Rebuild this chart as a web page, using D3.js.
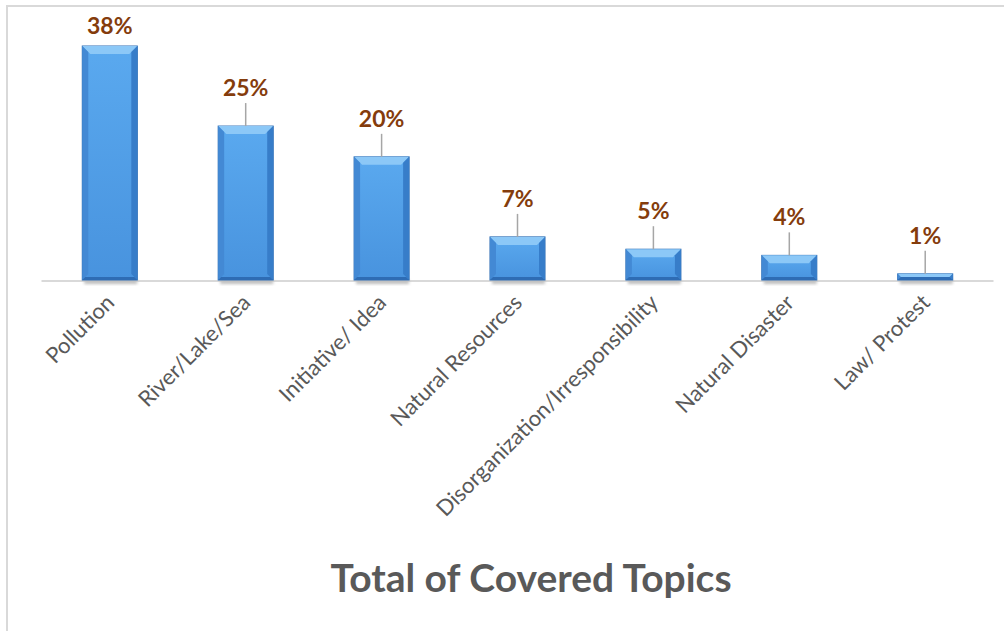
<!DOCTYPE html>
<meta charset="utf-8">
<style>
body { margin: 0; background: #fff; }
svg { display: block; }
text { font-family: Lato, "Open Sans", sans-serif; }
</style>
<svg width="1004" height="631"></svg>
<script src="https://d3js.org/d3.v7.min.js"></script>
<script>

var categories = ["Pollution", "River/Lake/Sea", "Initiative/ Idea", "Natural Resources",
                  "Disorganization/Irresponsibility", "Natural Disaster", "Law/ Protest"];
var values = [38, 25, 20, 7, 5, 4, 1];
var valueLabels = ["38%", "25%", "20%", "7%", "5%", "4%", "1%"];
var title = "Total of Covered Topics";

var svg = d3.select("svg"),
    width = +svg.attr("width"),
    height = +svg.attr("height");

var baseY = 280;

var x = d3.scaleBand()
    .domain(categories)
    .range([41.5, 993.5])
    .paddingInner(0.595)
    .paddingOuter(0.3);

var y = d3.scaleLinear()
    .domain([0, 38])
    .range([baseY, 46]);

// chart frame (top + left only, the rest is cropped)
svg.append("line")
    .attr("x1", 6).attr("x2", width).attr("y1", 6).attr("y2", 6)
    .attr("stroke", "#d9d9d9").attr("stroke-width", 2);
svg.append("line")
    .attr("x1", 7).attr("x2", 7).attr("y1", 6).attr("y2", height)
    .attr("stroke", "#d9d9d9").attr("stroke-width", 2);

var defs = svg.append("defs");
var grad = defs.append("linearGradient").attr("id", "face")
    .attr("x1", 0).attr("x2", 0).attr("y1", 0).attr("y2", 1);
grad.append("stop").attr("offset", "0%").attr("stop-color", "#5aa9ef");
grad.append("stop").attr("offset", "100%").attr("stop-color", "#4893de");

var shadow = defs.append("filter").attr("id", "blur")
    .attr("x", "-20%").attr("y", "-50%").attr("width", "140%").attr("height", "200%");
shadow.append("feGaussianBlur").attr("stdDeviation", 1.5);

// baseline
svg.append("line")
    .attr("x1", 41.5).attr("x2", 993.5)
    .attr("y1", baseY + 1).attr("y2", baseY + 1)
    .attr("stroke", "#d9d9d9").attr("stroke-width", 2);

var bars = svg.append("g").selectAll("g")
    .data(values)
    .enter().append("g")
    .attr("transform", function(d, i) { return "translate(" + x(categories[i]) + ",0)"; });

var bw = x.bandwidth();

// soft shadow under each bar
bars.append("rect")
    .attr("x", 2).attr("width", bw - 2)
    .attr("y", baseY).attr("height", 4)
    .attr("fill", "#bdbdbd")
    .attr("filter", "url(#blur)");

bars.append("rect")
    .attr("x", 0).attr("width", bw)
    .attr("y", function(d) { return y(d); })
    .attr("height", function(d) { return baseY - y(d); })
    .attr("fill", "url(#face)")
    .attr("stroke", "#2f6db3").attr("stroke-width", 1);

// bevel: top facet lighter, sides darker
bars.append("path")
    .attr("d", function(d) {
      var t = y(d), h = baseY - t, b = Math.min(8, h / 2);
      return "M0," + t + "L" + bw + "," + t + "L" + (bw - b) + "," + (t + b) + "L" + b + "," + (t + b) + "Z";
    })
    .attr("fill", "#8cc8f7");
bars.append("path")
    .attr("d", function(d) {
      var t = y(d), h = baseY - t, b = Math.min(6, h / 2);
      return "M0," + t + "L" + b + "," + (t + b) + "L" + b + "," + (baseY - b) + "L0," + baseY + "Z";
    })
    .attr("fill", "#4389d4");
bars.append("path")
    .attr("d", function(d) {
      var t = y(d), h = baseY - t, b = Math.min(6, h / 2);
      return "M" + bw + "," + t + "L" + (bw - b) + "," + (t + b) + "L" + (bw - b) + "," + (baseY - b) + "L" + bw + "," + baseY + "Z";
    })
    .attr("fill", "#377dc9");
bars.append("path")
    .attr("d", function(d) {
      var t = y(d), h = baseY - t, b = Math.min(3, h / 2);
      return "M0," + baseY + "L" + b + "," + (baseY - b) + "L" + (bw - b) + "," + (baseY - b) + "L" + bw + "," + baseY + "Z";
    })
    .attr("fill", "#2e6cb4");

// value labels with leader lines
function labelY(d) { return Math.max(y(d) - 38, 26); }

bars.filter(function(d) { return y(d) - labelY(d) > 25; })
  .append("line")
    .attr("x1", bw / 2).attr("x2", bw / 2)
    .attr("y1", function(d) { return labelY(d) + 15; })
    .attr("y2", function(d) { return y(d); })
    .attr("stroke", "#a6a6a6").attr("stroke-width", 1.5);

bars.append("text")
    .attr("x", bw / 2)
    .attr("y", function(d) { return labelY(d); })
    .attr("dy", "0.35em")
    .attr("text-anchor", "middle")
    .attr("fill", "#843c0c")
    .style("font-size", "23px")
    .style("font-weight", "bold")
    .text(function(d, i) { return valueLabels[i]; });

// category labels
svg.append("g").selectAll("text")
    .data(categories)
    .enter().append("text")
    .attr("transform", function(d) {
      return "translate(" + (x(d) + bw / 2 + 6) + "," + (baseY + 24) + ") rotate(-45)";
    })
    .attr("text-anchor", "end")
    .attr("fill", "#595959")
    .style("font-size", "22px")
    .text(function(d) { return d; });

svg.append("text")
    .attr("x", 531).attr("y", 578)
    .attr("dy", "0.35em")
    .attr("text-anchor", "middle")
    .attr("fill", "#595959")
    .style("font-size", "39px")
    .style("font-weight", "bold")
    .text(title);

</script>
